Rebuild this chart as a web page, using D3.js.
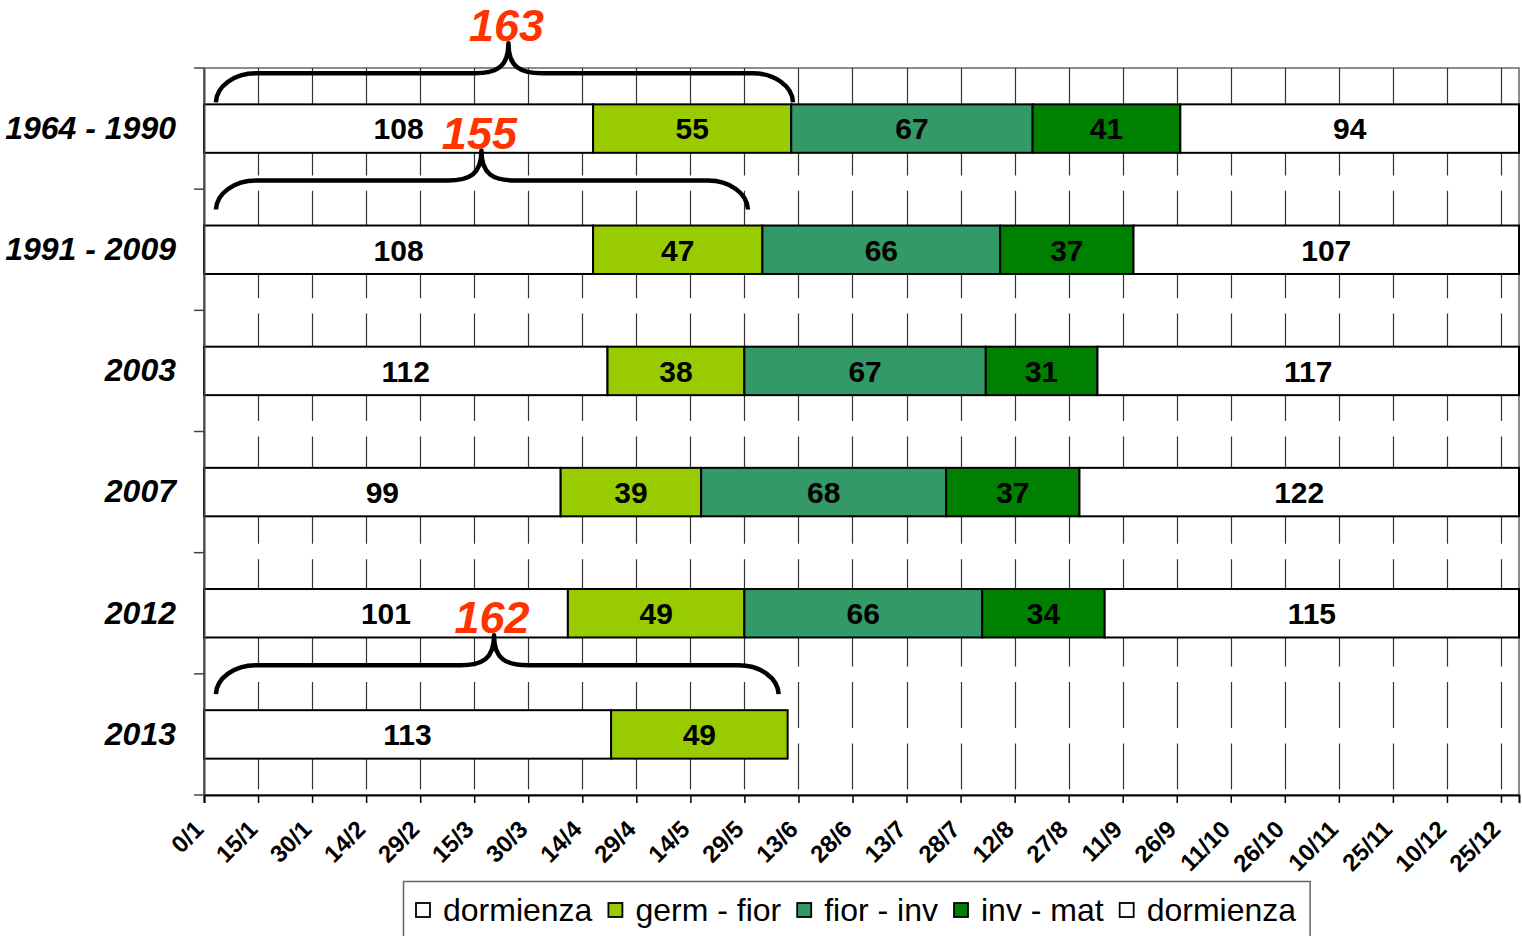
<!DOCTYPE html>
<html>
<head>
<meta charset="utf-8">
<script src="https://cdn.jsdelivr.net/npm/d3@7"></script>
<style>
  html, body { margin: 0; padding: 0; background: #fff; }
  svg { display: block; font-family: "Liberation Sans", Arial, sans-serif; }
</style>
</head>
<body>
<svg id="chart" width="1522" height="936"></svg>
<script>
// ---------------- data ----------------
const categories = ["1964 - 1990", "1991 - 2009", "2003", "2007", "2012", "2013"];
const phases = ["dormienza", "germ - fior", "fior - inv", "inv - mat", "dormienza"];
const phaseColors = ["#ffffff", "#99cc00", "#339966", "#008000", "#ffffff"];
// days per phase, one array per phase (index matches categories)
const dormienza1 = [108, 108, 112, 99, 101, 113];
const germFior   = [55, 47, 38, 39, 49, 49];
const fiorInv    = [67, 66, 67, 68, 66, null];
const invMat     = [41, 37, 31, 37, 34, null];
const dormienza2 = [94, 107, 117, 122, 115, null];
const tickValues = [0, 15, 30, 45, 60, 75, 90, 105, 120, 135, 150, 165, 180, 195, 210, 225, 240, 255, 270, 285, 300, 315, 330, 345, 360];
const tickLabels = ["0/1", "15/1", "30/1", "14/2", "29/2", "15/3", "30/3", "14/4", "29/4", "14/5", "29/5", "13/6", "28/6", "13/7", "28/7", "12/8", "27/8", "11/9", "26/9", "11/10", "26/10", "10/11", "25/11", "10/12", "25/12"];
// brace annotations: label, row it sits above, start day, end day, tip day
const braceLabels = ["163", "155", "162"];
const braceRows   = [0, 1, 5];
const braceStart  = [3.3, 3.3, 3.3];
const braceEnd    = [163.5, 151, 159.5];
const braceTip    = [84.5, 77, 80.5];

// ---------------- layout ----------------
const svg = d3.select("#chart");
const plot = { left: 204, right: 1519, top: 68, bottom: 795 };

const x = d3.scaleLinear().domain([0, 365]).range([plot.left, plot.right]);
const y = d3.scaleBand().domain(categories).range([plot.top, plot.bottom])
  .paddingInner(0.6).paddingOuter(0.3);

const seriesArrays = [dormienza1, germFior, fiorInv, invMat, dormienza2];

// plot area border (light grey)
svg.append("rect")
  .attr("x", plot.left).attr("y", plot.top)
  .attr("width", plot.right - plot.left).attr("height", plot.bottom - plot.top)
  .attr("fill", "none").attr("stroke", "#8c8c8c").attr("stroke-width", 2);

// vertical dashed gridlines
svg.append("g").selectAll("line")
  .data(tickValues.filter(d => d > 0))
  .join("line")
  .attr("x1", d => Math.round(x(d)) + 0.5).attr("x2", d => Math.round(x(d)) + 0.5)
  .attr("y1", plot.top).attr("y2", plot.bottom)
  .attr("stroke", "#333").attr("stroke-width", 1.2)
  .attr("stroke-dasharray", "46,15.4");

// bars
const rows = categories.map((c, i) => {
  let acc = 0;
  return seriesArrays.map((arr, k) => {
    const v = arr[i];
    if (v == null) return null;
    const seg = { cat: c, k, v, x0: acc, x1: acc + v };
    acc += v;
    return seg;
  }).filter(Boolean);
}).flat();

const barG = svg.append("g");
barG.selectAll("rect")
  .data(rows)
  .join("rect")
  .attr("x", d => x(d.x0)).attr("width", d => x(d.x1) - x(d.x0))
  .attr("y", d => y(d.cat)).attr("height", y.bandwidth())
  .attr("fill", d => phaseColors[d.k])
  .attr("stroke", "#000").attr("stroke-width", 2);

barG.selectAll("text")
  .data(rows)
  .join("text")
  .attr("x", d => x((d.x0 + d.x1) / 2))
  .attr("y", d => y(d.cat) + y.bandwidth() / 2)
  .attr("dy", "0.36em")
  .attr("text-anchor", "middle")
  .attr("font-size", 30).attr("font-weight", "bold")
  .attr("fill", "#000")
  .text(d => d.v);

// bottom axis
const xAxis = d3.axisBottom(x).tickValues(tickValues).tickSize(8).tickFormat("");
const gx = svg.append("g").attr("transform", `translate(0,${plot.bottom})`).call(xAxis);
gx.select(".domain").attr("stroke", "#000").attr("stroke-width", 2);
gx.selectAll(".tick line").attr("stroke", "#000").attr("stroke-width", 1.5);

svg.append("g").selectAll("text")
  .data(tickValues)
  .join("text")
  .attr("transform", (d) => `translate(${x(d) - 11},${plot.bottom + 24}) rotate(-45)`)
  .attr("text-anchor", "end")
  .attr("dy", "0.7em")
  .attr("font-size", 24).attr("font-weight", "bold")
  .text((d, i) => tickLabels[i]);

// left axis
const yAxis = d3.axisLeft(y).tickSize(0).tickPadding(28);
const gy = svg.append("g").attr("transform", `translate(${plot.left},0)`).call(yAxis);
gy.select(".domain").attr("stroke", "#444").attr("stroke-width", 2);
gy.selectAll(".tick text")
  .attr("font-size", 32).attr("font-weight", "bold").attr("font-style", "italic")
  .attr("font-family", "Liberation Sans, Arial, sans-serif")
  .attr("fill", "#000");
// category separator ticks
svg.append("g").selectAll("line")
  .data(categories.map((c, i) => plot.top + i * y.step()).concat([plot.bottom]))
  .join("line")
  .attr("x1", plot.left - 10).attr("x2", plot.left)
  .attr("y1", d => d).attr("y2", d => d)
  .attr("stroke", "#444").attr("stroke-width", 1.5);

// braces
const braceG = svg.append("g");
braceLabels.forEach((lab, i) => {
  const x1 = x(braceStart[i]), x2 = x(braceEnd[i]), xm = x(braceTip[i]);
  const yb = y(categories[braceRows[i]]) - (braceRows[i] === 0 ? 2 : 16);
  const yh = yb - 29, yt = yb - 59;
  const p = `M${x1},${yb} A40,30 0 0 1 ${x1 + 40},${yh} L${xm - 34},${yh} C${xm - 12},${yh} ${xm},${yh - 6} ${xm},${yt}` +
            ` C${xm},${yh - 6} ${xm + 12},${yh} ${xm + 34},${yh} L${x2 - 40},${yh} A40,30 0 0 1 ${x2},${yb}`;
  braceG.append("path").attr("d", p).attr("fill", "none")
    .attr("stroke", "#000").attr("stroke-width", 4.5).attr("stroke-linejoin", "round");
  braceG.append("text")
    .attr("x", xm - 2).attr("y", yt - 2)
    .attr("text-anchor", "middle")
    .attr("font-size", 45).attr("font-weight", "bold").attr("font-style", "italic")
    .attr("fill", "#ff3300")
    .text(lab);
});

// legend
const lg = svg.append("g");
const legBox = lg.append("rect").attr("x", 403.5).attr("y", 881.5).attr("height", 70)
  .attr("fill", "#fff").attr("stroke", "#666").attr("stroke-width", 1.5);
let lx = 416;
phases.forEach((p, i) => {
  lg.append("rect").attr("x", lx).attr("y", 903).attr("width", 14).attr("height", 14)
    .attr("fill", phaseColors[i]).attr("stroke", "#000").attr("stroke-width", 1.8);
  const t = lg.append("text").attr("x", lx + 27).attr("y", 921)
    .attr("font-size", 32).attr("fill", "#000").text(p);
  lx += 27 + t.node().getComputedTextLength() + 16;
});
legBox.attr("width", lx - 403.5 - 2);
</script>
</body>
</html>
